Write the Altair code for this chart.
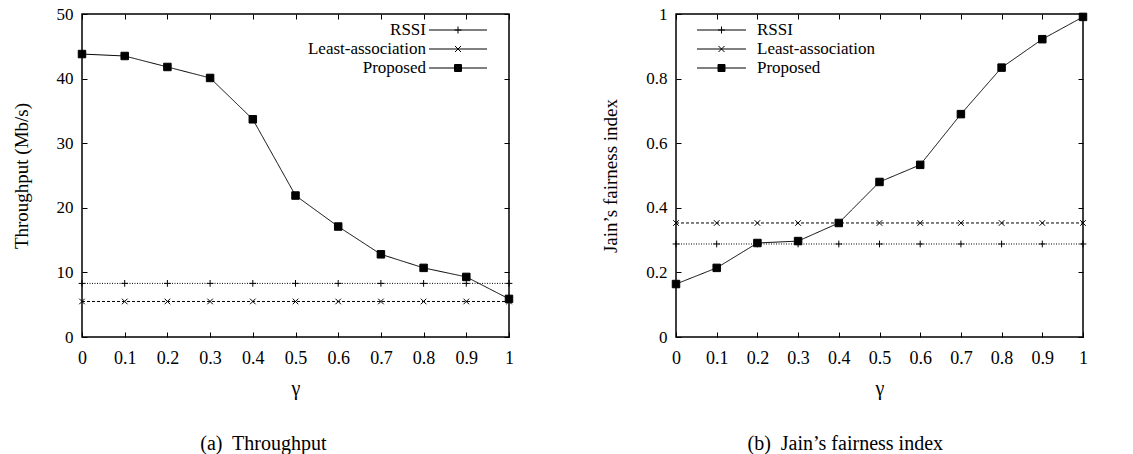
import altair as alt
import pandas as pd

gamma = [0.0, 0.1, 0.2, 0.3, 0.4, 0.5, 0.6, 0.7, 0.8, 0.9, 1.0]
series_names = ["RSSI", "Least-association", "Proposed"]

thr_rssi = [8.3, 8.3, 8.3, 8.3, 8.3, 8.3, 8.3, 8.3, 8.3, 8.3, 8.3]
thr_least = [5.5, 5.5, 5.5, 5.5, 5.5, 5.5, 5.5, 5.5, 5.5, 5.5, 5.5]
thr_prop = [43.8, 43.5, 41.8, 40.1, 33.7, 21.9, 17.1, 12.8, 10.7, 9.3, 5.9]

fair_rssi = [0.288, 0.288, 0.288, 0.288, 0.288, 0.288, 0.288, 0.288, 0.288, 0.288, 0.288]
fair_least = [0.353, 0.353, 0.353, 0.353, 0.353, 0.353, 0.353, 0.353, 0.353, 0.353, 0.353]
fair_prop = [0.164, 0.214, 0.291, 0.297, 0.353, 0.480, 0.533, 0.690, 0.834, 0.922, 0.991]

thr_ticks = [0, 10, 20, 30, 40, 50]
fair_ticks = [0, 0.2, 0.4, 0.6, 0.8, 1.0]

FONT = "Liberation Serif"
INWARD = {"expr": "-5"}
LEG_UNIT = 9.5            # legend symbol scale: sqrt(symbolSize) / 2
LEG_SIZE = (2 * LEG_UNIT) ** 2


def make_df(rssi, least, prop):
    rows = []
    for name, vals in zip(series_names, [rssi, least, prop]):
        for g, v in zip(gamma, vals):
            rows.append({"gamma": g, "value": v, "series": name})
    return pd.DataFrame(rows)


dash_scale = alt.Scale(domain=series_names, range=[[1, 1.5], [3, 2], [1, 0]])
marker_paths = ["M-0.9,0H0.9M0,-0.9V0.9",
                "M-0.75,-0.75L0.75,0.75M-0.75,0.75L0.75,-0.75",
                "square"]


def legend_paths(half_w):
    def f(px):
        return f"{px / LEG_UNIT:.4f}"

    line = f"M-{f(half_w)},0H{f(half_w)}"
    plus = line + f"M-{f(3.5)},0H{f(3.5)}M0,-{f(3.5)}V{f(3.5)}"
    cross = line + (f"M-{f(3)},-{f(3)}L{f(3)},{f(3)}"
                    f"M-{f(3)},{f(3)}L{f(3)},-{f(3)}")
    sq = line
    for h in [3.5, 3.0, 2.5, 2.0, 1.5, 1.0, 0.5]:
        sq += f"M-{f(h)},-{f(h)}H{f(h)}V{f(h)}H-{f(h)}Z"
    return [plus, cross, sq]


def panel(df, ytitle, ydomain, yticks, caption, width, half_w, legend_x, label_align, label_offset):
    base = alt.Chart(df)
    xscale = alt.Scale(domain=[0, 1], nice=False, zero=False)
    yscale = alt.Scale(domain=ydomain, nice=False, zero=False)

    x_main = alt.X("gamma:Q", scale=xscale, axis=alt.Axis(
        values=gamma, format="~r", title="γ", orient="bottom",
        tickSize=INWARD, labelPadding=17, titlePadding=11,
        labelFont=FONT, titleFont=FONT,
        titleFontSize=20, labelFontSize=18))
    y_main = alt.Y("value:Q", scale=yscale, axis=alt.Axis(
        values=yticks, format="~r", title=ytitle, orient="left",
        tickSize=INWARD, labelPadding=14, titlePadding=25,
        labelFont=FONT, titleFont=FONT,
        titleFontSize=19, labelFontSize=17))

    lines = base.mark_line(color="black", strokeWidth=1).encode(
        x=x_main, y=y_main,
        strokeDash=alt.StrokeDash("series:N", scale=dash_scale, legend=None),
    )

    points = base.mark_point(filled=True, color="black", stroke="black",
                             strokeWidth=1, size=56, opacity=1).encode(
        x=alt.X("gamma:Q", scale=xscale, axis=None),
        y=alt.Y("value:Q", scale=yscale, axis=None),
        shape=alt.Shape("series:N", scale=alt.Scale(domain=series_names, range=marker_paths), legend=None),
    )

    leg = alt.Legend(title=None, orient="none", legendX=legend_x, legendY=6,
                     symbolSize=LEG_SIZE, rowPadding=1,
                     labelFont=FONT, labelFontSize=17, labelColor="black",
                     labelAlign=label_align, labelOffset={"expr": str(label_offset)},
                     symbolStrokeWidth=1, symbolStrokeColor="black",
                     symbolOpacity=1, labelLimit=300)

    legend_layer = base.mark_point(filled=False, color="black",
                                   strokeWidth=1, size=0).encode(
        x=alt.X("gamma:Q", scale=xscale, axis=alt.Axis(
            orient="top", values=gamma, labels=False, title=None,
            tickSize=INWARD)),
        y=alt.Y("value:Q", scale=yscale, axis=alt.Axis(
            orient="right", values=yticks, labels=False, title=None,
            tickSize=INWARD)),
        shape=alt.Shape("series:N", scale=alt.Scale(domain=series_names,
                        range=legend_paths(half_w)), legend=leg),
        strokeDash=alt.StrokeDash("series:N", scale=dash_scale, legend=leg),
    )

    return alt.layer(lines, points, legend_layer).resolve_scale(
        shape="independent"
    ).resolve_axis(
        x="independent", y="independent"
    ).properties(
        width=width, height=323,
        title=alt.TitleParams(caption, orient="bottom", anchor="middle",
                              frame="bounds", offset=36, fontSize=20,
                              font=FONT, fontWeight="normal", color="black"),
    )


left = panel(make_df(thr_rssi, thr_least, thr_prop), "Throughput (Mb/s)",
             [0, 50], thr_ticks, "(a)\u00a0 Throughput", 427, 29, 366, "right", -42)
right = panel(make_df(fair_rssi, fair_least, fair_prop), "Jain\u2019s fairness index",
              [0, 1], fair_ticks, "(b)\u00a0 Jain\u2019s fairness index", 407, 24.5, 35.5, "left", 25.5)

chart = alt.hconcat(left, right, spacing=85).properties(
    padding={"left": 3, "top": -4, "right": 5, "bottom": 0}
).configure_view(
    stroke="black", strokeWidth=1.5
).configure_axis(
    labelFont=FONT, titleFont=FONT, labelColor="black", titleColor="black",
    titleFontWeight="normal", tickColor="black", tickWidth=1,
    domain=False, grid=False, labelFlush=False
)

chart.save("out.html", embed_options={"renderer": "svg", "actions": False})
